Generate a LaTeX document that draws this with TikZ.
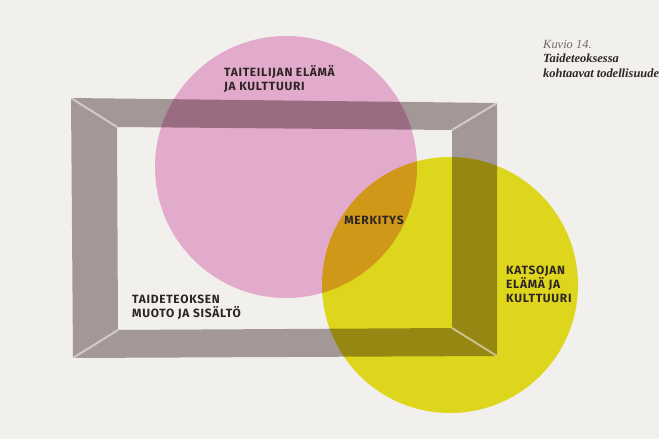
\documentclass[tikz,border=0pt]{standalone}
\usepackage{fontspec}
\newfontfamily\labelfont[LetterSpace=6]{Fira Sans}
\newfontfamily\captionfont{Liberation Serif}
\usetikzlibrary{positioning}
\definecolor{paper}{RGB}{242,240,236}
\definecolor{artistpink}{RGB}{240,182,220}
\definecolor{viewer}{RGB}{234,228,32}
\definecolor{framegray}{RGB}{172,162,164}
\definecolor{bevel}{RGB}{132,120,126}
\definecolor{ink}{RGB}{45,36,38}
\definecolor{captiongray}{RGB}{112,106,106}

\begin{document}
\begin{tikzpicture}[x=1bp,y=-1bp,
		labeltext/.style={font=\labelfont\bfseries\fontsize{12}{14}\selectfont,
			text=ink,align=left,inner sep=0pt,anchor=north west}]
		
		\useasboundingbox (0,0) rectangle (659,439);
		\fill[paper] (0,0) rectangle (659,439);
		
		% circles and frame, multiplied on the paper
		\begin{scope}[blend mode=multiply]
			\fill[artistpink] (286,167) circle[radius=131];
			\fill[viewer] (450,285) circle[radius=128];
			\fill[framegray,even odd rule]
			(71,98) -- (497,103) -- (497,356) -- (73,358) -- cycle
			(117,127) -- (452,130) -- (452,328) -- (118,330) -- cycle;
		\end{scope}
		
		% light mitre lines in the corners
		\begin{scope}[blend mode=screen,line width=2bp,bevel]
			\draw (71,98) -- (117,127);
			\draw (497,103) -- (452,130);
			\draw (497,356) -- (452,328);
			\draw (73,358) -- (118,330);
		\end{scope}
		
		% labels
		\node[labeltext] (taiteilija) at (224,65)
		{TAITEILIJAN ELÄMÄ\\JA KULTTUURI};
		
		\node[labeltext,anchor=center] (merkitys) at (374,220)
		{MERKITYS};
		
		\node[labeltext] (katsoja) at (506,266)
		{KATSOJAN\\ELÄMÄ JA\\KULTTUURI};
		
		\node[labeltext] (teos) at (132,295)
		{TAIDETEOKSEN\\MUOTO JA SISÄLTÖ};
		
		% caption
		\node[align=left,inner sep=0pt,anchor=north west,
		font=\captionfont\fontsize{12.5}{14.5}\selectfont\itshape] (kuvio) at (543,40)
		{\textcolor{captiongray}{Kuvio 14.}\\
			\textcolor{ink}{\bfseries Taideteoksessa}\\
			\textcolor{ink}{\bfseries kohtaavat todellisuude}};
		
	\end{tikzpicture}
\end{document}
